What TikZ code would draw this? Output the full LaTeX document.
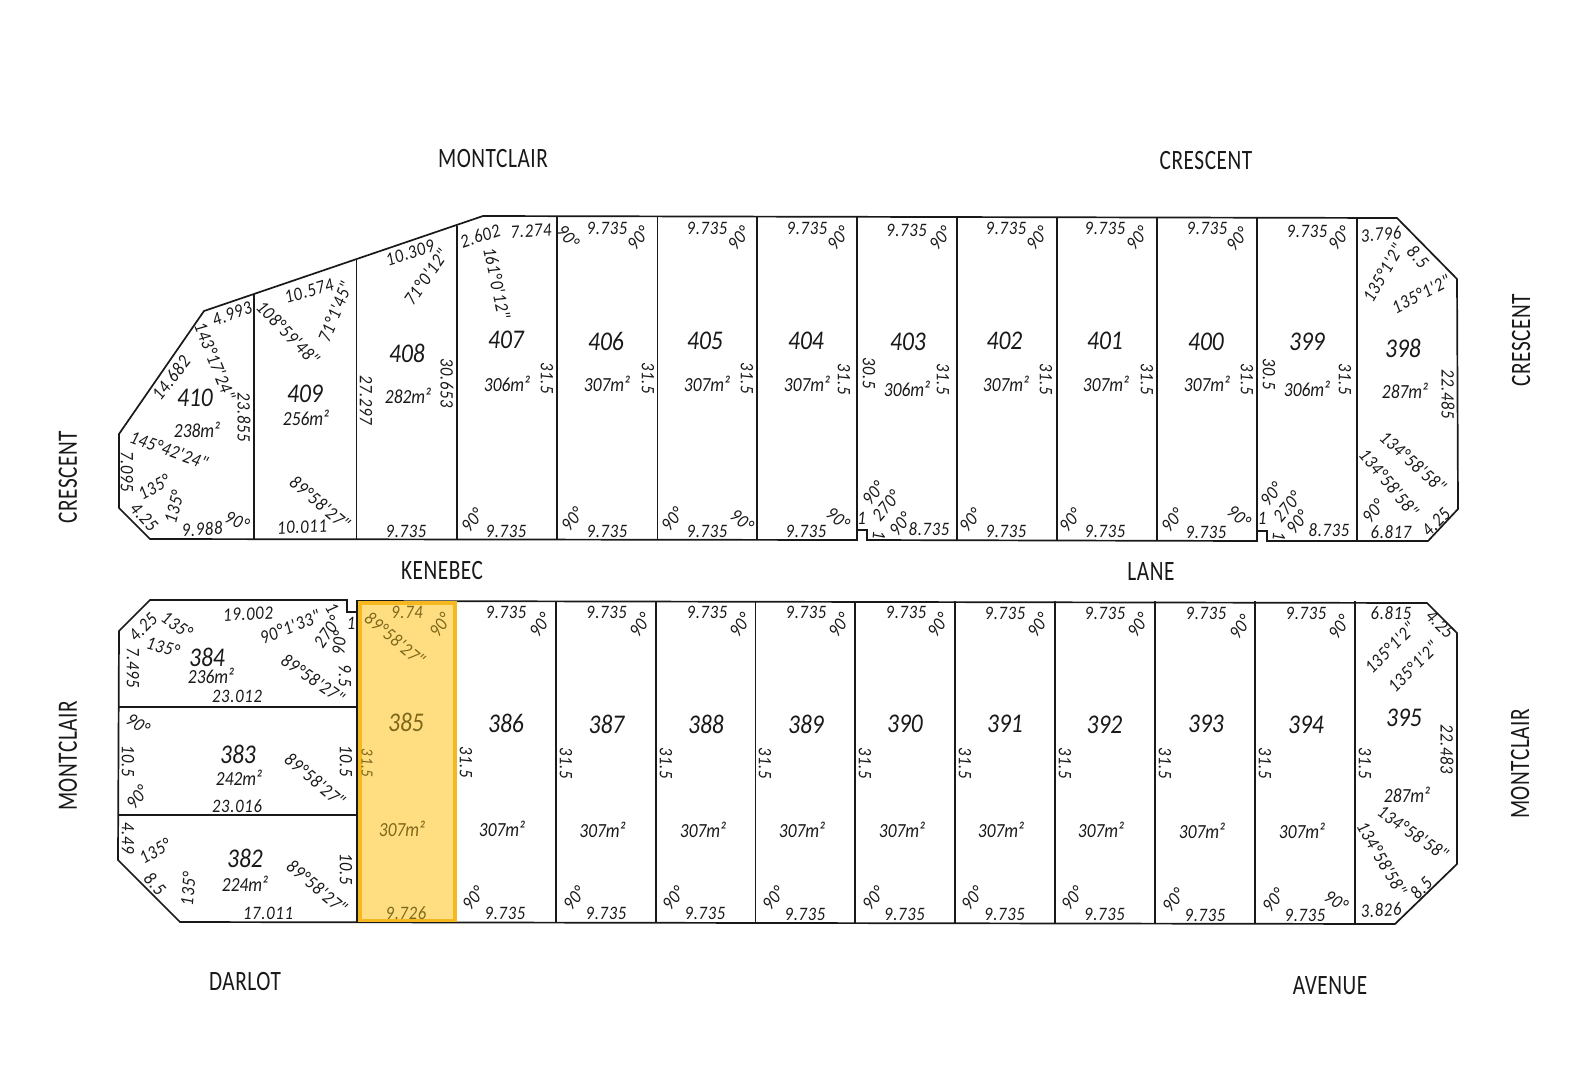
\documentclass[tikz,border=0pt]{standalone}
\usepackage{fontspec}
\newfontfamily\lotfont[FakeStretch=0.87]{Carlito}
\newfontfamily\dimfont[FakeStretch=0.87,LetterSpace=4]{Carlito}
\newfontfamily\streetfont[FakeStretch=0.76,LetterSpace=2]{Carlito}
\definecolor{PlanLine}{RGB}{25, 25, 25}
\definecolor{SoldFill}{RGB}{255, 222, 130}
\definecolor{SoldEdge}{RGB}{245, 184, 31}
\definecolor{SoldText}{RGB}{125, 104, 25}
\tikzset{
	lotline/.style={line width=1.7pt, PlanLine, line join=miter},
	lotno/.style={font=\lotfont\itshape\fontsize{27}{27}\selectfont, text=PlanLine, inner sep=0pt},
	lotarea/.style={font=\lotfont\itshape\fontsize{20}{20}\selectfont, text=PlanLine, inner sep=0pt},
	dimlabel/.style={font=\dimfont\itshape\fontsize{19}{19}\selectfont, text=PlanLine, inner sep=0pt},
	streetlabel/.style={font=\streetfont\fontsize{28}{28}\selectfont, text=PlanLine, inner sep=0pt}
}

\begin{document}
\begin{tikzpicture}[x=1pt, y=-1pt]
	\useasboundingbox[fill=white] (0, 0) rectangle (1571, 1080);

	\fill[SoldFill] (358, 601) rectangle (456, 922);

	\draw[lotline] (150, 539) -- (119, 508) -- (119, 434) -- (204, 311) -- (483, 216) -- (1397, 218) -- (1457, 279) -- (1458, 509) -- (1428, 541) -- (1267, 541) -- (1267, 531) -- (1257, 531) -- (1257, 541) -- (867, 540) -- (867, 530) -- (857, 530) -- (857, 540) -- cycle;
	\foreach \x/\y in {254/294, 356.5/259, 457/226, 557/217, 657.5/217, 757/217, 857/217, 957/217, 1057/217, 1157/218, 1257/218, 1357/218}{
		\draw[lotline] (\x, \y) -- (\x, 540);
	}
	\draw[lotline] (150, 600) -- (119, 631) -- (118, 860) -- (180, 922) -- (1395, 924) -- (1457, 864) -- (1457, 633) -- (1427, 603) -- (357, 601) -- (357, 612) -- (347, 612) -- (347, 600) -- cycle;
	\foreach \x in {357, 456.5, 556, 656, 755.5, 855, 955, 1055, 1155, 1255, 1355}{
		\draw[lotline] (\x, 601) -- (\x, 923);
	}
	\draw[lotline] (119, 707) -- (357, 707);
	\draw[lotline] (118, 815) -- (357, 815);

	\draw[line width=3.5pt, SoldEdge] (360, 603) rectangle (455, 920.5);

	\foreach \x/\y/\n in {195/398/410, 305/394/409, 407/353/408, 506/340/407, 606/341/406, 705/341/405, 806/341/404, 908/342/403, 1004.5/341/402, 1105/341/401, 1206/342/400, 1307/342/399, 1403/348/398, 245/858/382, 238/754/383, 207/657/384, 506/723/386, 606.5/724/387, 706/724/388, 806/724/389, 905/724/390, 1005/724/391, 1104.5/725/392, 1206/724/393, 1306/725/394, 1404/718/395}{
		\node[lotno] (lot\n) at (\x, \y) {\n};
	}
	\foreach \x/\y/\n/\a in {197/430/410/238, 306/418/409/256, 408/396/408/282, 507/384/407/306, 607/384/406/307, 707/384/405/307, 807/384/404/307, 907/389/403/306, 1006/384/402/307, 1106/384/401/307, 1207/384/400/307, 1307/389/399/306, 1405/391/398/287, 245/884/382/224, 239/778/383/242, 211/676/384/236, 502/829/386/307, 602.5/830/387/307, 703/830/388/307, 802/830/389/307, 902/830/390/307, 1001/830/391/307, 1101/830/392/307, 1202/831/393/307, 1302/831/394/307, 1407/795/395/287}{
		\node[lotarea] (area\n) at (\x, \y) {\a m²};
	}

	\foreach \x/\y/\r/\t [count=\i] in {
		232/314/20/4.993, 215/361/-68/143°17'24", 171/378/52/14.682, 244/417/-90/23.855, 169/450/-20/145°42'24", 127/472/-90/7.095, 154/487/28/135°, 174/507/75/135°, 144/517/-48/4.25, 202/529/3/9.988, 237/521/-25/90°,
		288/333/-46/108°59'48", 309/291/16/10.574, 335/312/68/71°1'45", 320/503/-40/89°58'27", 302/527/3/10.011,
		410/253/18/10.309, 426/277/55/71°0'12", 366/400/-90/27.297, 447/383/-90/30.653, 406/531/0/9.735,
		480/236/18/2.602, 531/231/3/7.274, 497/283/-78/161°0'12", 547/378/-90/31.5, 472/520/50/90°, 506/531/0/9.735,
		607/228/0/9.735, 568/237/-50/90°, 638/238/50/90°, 648/378/-90/31.5, 572/519/50/90°, 607/531/0/9.735,
		707/228/0/9.735, 738.5/238/50/90°, 747/378/-90/31.5, 672/519/50/90°, 707/531/0/9.735, 742/520/-40/90°,
		807/228/0/9.735, 838/238/50/90°, 844/379/-90/31.5, 806/531/0/9.735, 838/518/-40/90°,
		906.5/230/0/9.735, 940/238/50/90°, 869/373/-90/30.5, 943/379/-90/31.5, 873/493/50/90°, 886/506/50/270°, 861.5/518/0/1, 879/535/-95/1, 900/524/50/90°, 929/529/0/8.735,
		1006/228/0/9.735, 1037/238/50/90°, 1046/379/-90/31.5, 970/520/50/90°, 1006/531/0/9.735,
		1105/228/0/9.735, 1137/238/50/90°, 1147/379/-90/31.5, 1070/520/50/90°, 1105/531/0/9.735,
		1207/228/0/9.735, 1237/239/50/90°, 1247/379/-90/31.5, 1172/520/50/90°, 1206/532/0/9.735, 1239/516/-40/90°,
		1307/231/0/9.735, 1339/238/50/90°, 1269/374/-90/30.5, 1345/379/-90/31.5, 1271/494/50/90°, 1287/507/50/270°, 1262/518/0/1, 1279/536/-95/1, 1297/522/50/90°, 1329/530/0/8.735,
		1448/394/-90/22.485, 1381/234/5/3.796, 1418/257/-48/8.5, 1383/273/60/135°1'2", 1421/294/27/135°1'2", 1413/462/-42/134°58'58", 1389/483/-50/134°58'58", 1373/511/50/90°, 1391/532/0/6.817, 1436/522/45/4.25,
		143/627/45/4.25, 177/625/-35/135°, 163/647/-15/135°, 133/668/-90/7.495, 248/614/3/19.002, 290/627/22/90°1'33", 327/632/55/270°, 332/608/-60/1, 339/643/85/90°, 351/623/0/1, 345/676/-90/9.5, 313/679/-35/89°58'27", 237/696/0/23.012,
		138/724/-35/90°, 128/761/-90/10.5, 137/797/50/90°, 237/806/0/23.016, 315/780/-40/89°58'27", 346/761/-90/10.5,
		128/838/-90/4.49, 155/851/30/135°, 155/884/-48/8.5, 188/889/85/135°, 268/913/0/17.011, 317/887/-40/89°58'27", 346/869/-90/10.5,
		506/612/0/9.735, 540/625/55/90°, 466/762/-90/31.5, 473/898/50/90°, 505/913/0/9.735,
		606.5/612/0/9.735, 640/625/55/90°, 566/763/-90/31.5, 574/898/50/90°, 606/913/0/9.735,
		707/612/0/9.735, 740/625/55/90°, 666/763/-90/31.5, 673/898/50/90°, 705/913/0/9.735,
		806/612/0/9.735, 839/625/55/90°, 765/763/-90/31.5, 773/898/50/90°, 805/914/0/9.735,
		906/612/0/9.735, 938/625/55/90°, 865/763/-90/31.5, 873/898/50/90°, 904.5/914/0/9.735,
		1005/613/0/9.735, 1038/625/55/90°, 965/763/-90/31.5, 972/898/50/90°, 1004.5/914/0/9.735,
		1105/613/0/9.735, 1138/625/55/90°, 1065/763/-90/31.5, 1072/898/50/90°, 1104.5/914/0/9.735,
		1206/613/0/9.735, 1240/627/55/90°, 1165/763/-90/31.5, 1173/900/50/90°, 1205/915/0/9.735,
		1306/613/0/9.735, 1339/627/55/90°, 1265/763/-90/31.5, 1273/900/50/90°, 1305/915/0/9.735, 1336/901/-35/90°,
		1391/613/0/6.815, 1440/624/-45/4.25, 1390/648/45/135°1'2", 1413/667/45/135°1'2", 1447/749/-90/22.483, 1365/763/-90/31.5, 1413/833/-35/134°58'58", 1382/859/-60/134°58'58", 1421/888/45/8.5, 1381/910/3/3.826}{
		\node[dimlabel, rotate=\r] (dim\i) at (\x, \y) {\t};
	}

	\node[lotno, text=SoldText] (lot385) at (406, 722) {385};
	\node[lotarea, text=SoldText] (area385) at (402, 829) {307m²};
	\foreach \x/\y/\r/\t [count=\i] in {407/612/0/9.74, 440/625/55/90°, 395/639/-40/89°58'27", 406/913/0/9.726}{
		\node[dimlabel, text=SoldText, rotate=\r] (solddim\i) at (\x, \y) {\t};
	}
	\node[dimlabel, text=SoldText, rotate=-90, font=\dimfont\itshape\fontsize{17}{17}\selectfont] (solddim5) at (367, 763) {31.5};

	\foreach \x/\y/\r/\t [count=\i] in {493/159/0/MONTCLAIR, 1206/161/0/CRESCENT, 1521/340/90/CRESCENT, 68/477/90/CRESCENT, 442/570/0/KENEBEC, 1151/572/0/LANE, 68/756/90/MONTCLAIR, 1520/764/90/MONTCLAIR, 245/981/0/DARLOT, 1330/986/0/AVENUE}{
		\node[streetlabel, rotate=\r] (street\i) at (\x, \y) {\t};
	}
\end{tikzpicture}
\end{document}
